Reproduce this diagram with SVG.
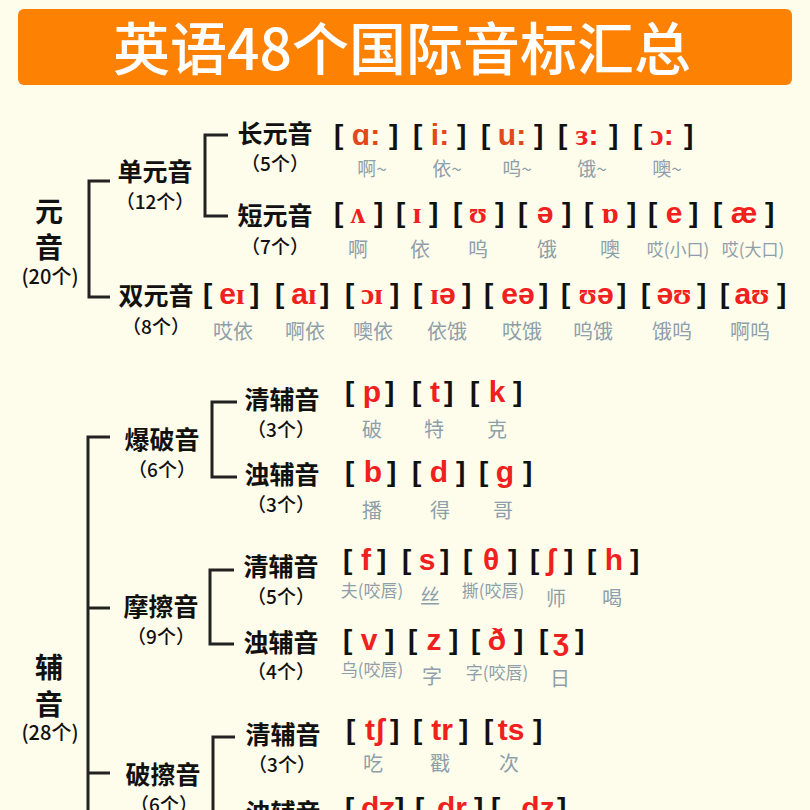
<svg xmlns="http://www.w3.org/2000/svg" width="810" height="810" viewBox="0 0 810 810">
<style>
.tt{font-family:"Noto Sans CJK SC",sans-serif;font-size:57px;fill:#fff;text-anchor:middle;font-weight:500}
.n1{font-family:"Noto Sans CJK SC",sans-serif;font-size:28px;font-weight:bold;fill:#111;text-anchor:middle}
.n2{font-family:"Noto Sans CJK SC",sans-serif;font-size:25px;font-weight:bold;fill:#111;text-anchor:middle}
.cnt{font-family:"Noto Sans CJK SC",sans-serif;font-size:19px;font-weight:500;fill:#111;text-anchor:middle}
.br{font-family:"Liberation Sans","DejaVu Sans",sans-serif;font-size:28px;font-weight:bold;fill:#111}
.ph{font-family:"Liberation Sans","DejaVu Sans",sans-serif;font-size:30px;font-weight:bold;fill:#F0201E;text-anchor:middle}
.or{fill:#E2481C}
.s{font-family:"Liberation Serif","DejaVu Serif",serif}
.lb{font-family:"Noto Sans CJK SC",sans-serif;font-size:20px;fill:#8D9FAA;text-anchor:middle}
.lm{font-size:19px}
.ls{font-size:17px}
.ln{fill:none;stroke:#222;stroke-width:3}
</style>
<rect width="810" height="810" fill="#FEFCEB"/>
<g id="title">
<rect x="18" y="9" width="774" height="76" rx="6" fill="#FD8204"/>
<text class="tt" x="402" y="70">英语48个国际音标汇总</text>
</g>
<g id="connectors">
<path class="ln" d="M110,181 H89 V297 H110"/>
<path class="ln" d="M228,135 H205 V216 H228"/>
<path class="ln" d="M110,437 H88 V812 M88,608 H110 M88,773 H110"/>
<path class="ln" d="M237,402 H212 V477 H237"/>
<path class="ln" d="M234,570 H210 V644 H234"/>
<path class="ln" d="M235,737 H213 V812"/>
</g>
<g id="vowel">
<text class="n1" x="49" y="222">元</text>
<text class="n1" x="49" y="258">音</text>
<text class="cnt" x="50" y="284" style="font-size:20px">(20个)</text>
</g>
<g id="monophthong">
<text class="n2" x="155" y="181">单元音</text>
<text class="cnt" x="155" y="209">（12个）</text>
</g>
<g id="long-vowels">
<text class="n2" x="275" y="143">长元音</text>
<text class="cnt" x="275" y="171">（5个）</text>
<text class="br" x="334" y="144">[</text><text class="ph or" x="366" y="145">ɑ:</text><text class="br" x="389" y="144">]</text>
<text class="br" x="413" y="144">[</text><text class="ph or" x="440" y="145">i:</text><text class="br" x="457" y="144">]</text>
<text class="br" x="481" y="144">[</text><text class="ph or" x="512" y="145">u:</text><text class="br" x="534" y="144">]</text>
<text class="br" x="558" y="144">[</text><text class="ph" x="587" y="145"><tspan class="s">ɜ</tspan>:</text><text class="br" x="609" y="144">]</text>
<text class="br" x="633" y="144">[</text><text class="ph" x="662" y="145"><tspan class="s">ɔ</tspan>:</text><text class="br" x="684" y="144">]</text>
<text class="lb lm" x="372" y="176">啊~</text>
<text class="lb lm" x="447" y="176">依~</text>
<text class="lb lm" x="517" y="176">呜~</text>
<text class="lb lm" x="592" y="176">饿~</text>
<text class="lb lm" x="667" y="176">噢~</text>
</g>
<g id="short-vowels">
<text class="n2" x="275" y="225">短元音</text>
<text class="cnt" x="275" y="254">（7个）</text>
<text class="br" x="334" y="222">[</text><text class="ph s" x="358" y="223">ʌ</text><text class="br" x="374" y="222">]</text>
<text class="br" x="396" y="222">[</text><text class="ph s" x="417" y="223">ɪ</text><text class="br" x="429" y="222">]</text>
<text class="br" x="453" y="222">[</text><text class="ph s" x="478" y="223">ʊ</text><text class="br" x="495" y="222">]</text>
<text class="br" x="518" y="222">[</text><text class="ph" x="545" y="223">ə</text><text class="br" x="562" y="222">]</text>
<text class="br" x="584" y="222">[</text><text class="ph s" x="610" y="223">ɒ</text><text class="br" x="627" y="222">]</text>
<text class="br" x="648" y="222">[</text><text class="ph" x="674" y="223">e</text><text class="br" x="689" y="222">]</text>
<text class="br" x="713" y="222">[</text><text class="ph" x="744" y="223">æ</text><text class="br" x="765" y="222">]</text>
<text class="lb" x="358" y="257">啊</text>
<text class="lb" x="420" y="257">依</text>
<text class="lb" x="478" y="257">呜</text>
<text class="lb" x="547" y="257">饿</text>
<text class="lb" x="610" y="257">噢</text>
<text class="lb ls" x="678" y="256">哎(小口)</text>
<text class="lb ls" x="753" y="256">哎(大口)</text>
</g>
<g id="diphthong">
<text class="n2" x="156" y="305">双元音</text>
<text class="cnt" x="156" y="334">（8个）</text>
<text class="br" x="203" y="303">[</text><text class="ph" x="232" y="304">e<tspan class="s">ɪ</tspan></text><text class="br" x="250" y="303">]</text>
<text class="br" x="275" y="303">[</text><text class="ph" x="304" y="304">a<tspan class="s">ɪ</tspan></text><text class="br" x="320" y="303">]</text>
<text class="br" x="345" y="303">[</text><text class="ph s" x="372" y="304">ɔɪ</text><text class="br" x="390" y="303">]</text>
<text class="br" x="413" y="303">[</text><text class="ph" x="443" y="304"><tspan class="s">ɪ</tspan>ə</text><text class="br" x="462" y="303">]</text>
<text class="br" x="484" y="303">[</text><text class="ph" x="518" y="304">eə</text><text class="br" x="539" y="303">]</text>
<text class="br" x="561" y="303">[</text><text class="ph" x="596" y="304"><tspan class="s">ʊ</tspan>ə</text><text class="br" x="617" y="303">]</text>
<text class="br" x="641" y="303">[</text><text class="ph" x="674" y="304">ə<tspan class="s">ʊ</tspan></text><text class="br" x="697" y="303">]</text>
<text class="br" x="720" y="303">[</text><text class="ph" x="752" y="304">a<tspan class="s">ʊ</tspan></text><text class="br" x="777" y="303">]</text>
<text class="lb" x="233" y="339">哎依</text>
<text class="lb" x="305" y="339">啊依</text>
<text class="lb" x="373" y="339">噢依</text>
<text class="lb" x="447" y="339">依饿</text>
<text class="lb" x="522" y="339">哎饿</text>
<text class="lb" x="593" y="339">呜饿</text>
<text class="lb" x="672" y="339">饿呜</text>
<text class="lb" x="750" y="339">啊呜</text>
</g>
<g id="consonant">
<text class="n1" x="49" y="678">辅</text>
<text class="n1" x="49" y="715">音</text>
<text class="cnt" x="50" y="740" style="font-size:20px">(28个)</text>
</g>
<g id="plosive">
<text class="n2" x="162" y="449">爆破音</text>
<text class="cnt" x="162" y="477">（6个）</text>
</g>
<g id="plosive-voiceless">
<text class="n2" x="282" y="409">清辅音</text>
<text class="cnt" x="281" y="437">（3个）</text>
<text class="br" x="345" y="401">[</text><text class="ph" x="372" y="402">p</text><text class="br" x="385" y="401">]</text>
<text class="br" x="412" y="401">[</text><text class="ph" x="435" y="402">t</text><text class="br" x="444" y="401">]</text>
<text class="br" x="470" y="401">[</text><text class="ph" x="497" y="402">k</text><text class="br" x="513" y="401">]</text>
<text class="lb" x="372" y="437">破</text>
<text class="lb" x="434" y="437">特</text>
<text class="lb" x="497" y="437">克</text>
</g>
<g id="plosive-voiced">
<text class="n2" x="282" y="484">浊辅音</text>
<text class="cnt" x="281" y="512">（3个）</text>
<text class="br" x="345" y="481">[</text><text class="ph" x="373" y="482">b</text><text class="br" x="387" y="481">]</text>
<text class="br" x="412" y="481">[</text><text class="ph" x="439" y="482">d</text><text class="br" x="456" y="481">]</text>
<text class="br" x="479" y="481">[</text><text class="ph" x="505" y="482">g</text><text class="br" x="523" y="481">]</text>
<text class="lb" x="372" y="518">播</text>
<text class="lb" x="440" y="518">得</text>
<text class="lb" x="503" y="518">哥</text>
</g>
<g id="fricative">
<text class="n2" x="161" y="616">摩擦音</text>
<text class="cnt" x="161" y="644">（9个）</text>
</g>
<g id="fricative-voiceless">
<text class="n2" x="281" y="576">清辅音</text>
<text class="cnt" x="281" y="604">（5个）</text>
<text class="br" x="343" y="569">[</text><text class="ph" x="366" y="570">f</text><text class="br" x="377" y="569">]</text>
<text class="br" x="402" y="569">[</text><text class="ph" x="427" y="570">s</text><text class="br" x="440" y="569">]</text>
<text class="br" x="463" y="569">[</text><text class="ph" x="491" y="570">θ</text><text class="br" x="508" y="569">]</text>
<text class="br" x="530" y="569">[</text><text class="ph" x="551" y="570">ʃ</text><text class="br" x="564" y="569">]</text>
<text class="br" x="587" y="569">[</text><text class="ph" x="614" y="570">h</text><text class="br" x="630" y="569">]</text>
<text class="lb ls" x="372" y="597">夫(咬唇)</text>
<text class="lb" x="430" y="604">丝</text>
<text class="lb ls" x="493" y="597">撕(咬唇)</text>
<text class="lb" x="556" y="606">师</text>
<text class="lb" x="612" y="606">喝</text>
</g>
<g id="fricative-voiced">
<text class="n2" x="281" y="652">浊辅音</text>
<text class="cnt" x="281" y="679">（4个）</text>
<text class="br" x="343" y="649">[</text><text class="ph" x="369" y="650">v</text><text class="br" x="385" y="649">]</text>
<text class="br" x="408" y="649">[</text><text class="ph" x="434" y="650">z</text><text class="br" x="449" y="649">]</text>
<text class="br" x="471" y="649">[</text><text class="ph" x="497" y="650">ð</text><text class="br" x="514" y="649">]</text>
<text class="br" x="539" y="649">[</text><text class="ph" x="561" y="650">ʒ</text><text class="br" x="575" y="649">]</text>
<text class="lb ls" x="372" y="676">乌(咬唇)</text>
<text class="lb" x="432" y="684">字</text>
<text class="lb ls" x="497" y="679">字(咬唇)</text>
<text class="lb" x="560" y="686">日</text>
</g>
<g id="affricate">
<text class="n2" x="163" y="784">破擦音</text>
<text class="cnt" x="164" y="812">（6个）</text>
</g>
<g id="affricate-voiceless">
<text class="n2" x="283" y="744">清辅音</text>
<text class="cnt" x="282" y="772">（3个）</text>
<text class="br" x="346" y="739">[</text><text class="ph" x="375" y="740">tʃ</text><text class="br" x="390" y="739">]</text>
<text class="br" x="413" y="739">[</text><text class="ph" x="442" y="740">tr</text><text class="br" x="459" y="739">]</text>
<text class="br" x="484" y="739">[</text><text class="ph" x="511" y="740">ts</text><text class="br" x="533" y="739">]</text>
<text class="lb" x="373" y="771">吃</text>
<text class="lb" x="440" y="771">戳</text>
<text class="lb" x="509" y="771">次</text>
</g>
<g id="affricate-voiced">
<text class="n2" x="283" y="822">浊辅音</text>
<text class="br" x="345" y="817">[</text><text class="ph" x="378" y="818">dʒ</text><text class="br" x="395" y="817">]</text>
<text class="br" x="415" y="817">[</text><text class="ph" x="452" y="818">dr</text><text class="br" x="474" y="817">]</text>
<text class="br" x="491" y="817">[</text><text class="ph" x="538" y="818">dz</text><text class="br" x="557" y="817">]</text>
</g>
</svg>
